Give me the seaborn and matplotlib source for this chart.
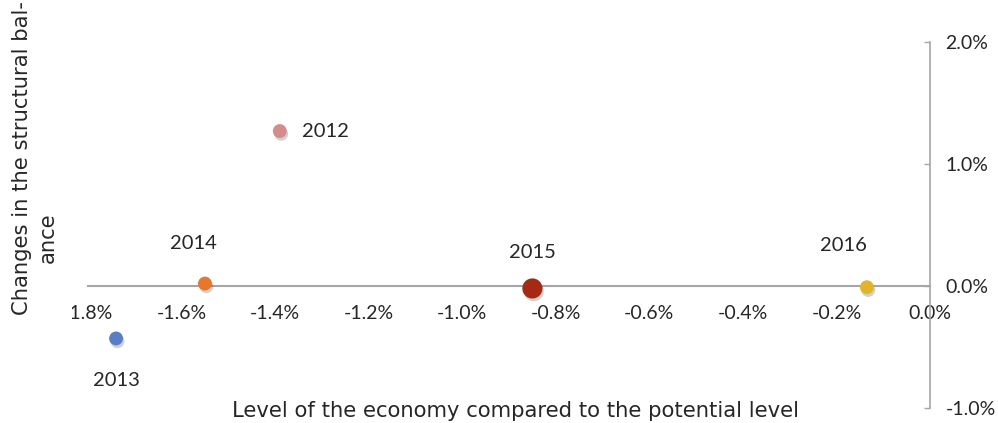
import numpy as np
import pandas as pd
import seaborn as sns
import matplotlib.pyplot as plt
import matplotlib.patheffects as pe
from matplotlib.ticker import MultipleLocator, FuncFormatter
from matplotlib.transforms import Bbox, TransformedBbox

years = ["2012", "2013", "2014", "2015", "2016"]
output_gap = [-1.39, -1.74, -1.55, -0.85, -0.135]
structural_change = [1.27, -0.43, 0.02, -0.02, -0.01]
point_colors = ["#D48C8C", "#5A7EC5", "#E8762C", "#A52A12", "#E1B52A"]
point_sizes = [100, 100, 100, 210, 100]
# label offsets in points (text placement relative to each point)
label_offsets = [(16, 0), (0, -30), (-8, 29), (0, 26), (-17, 30)]
label_ha = ["left", "center", "center", "center", "center"]

df = pd.DataFrame({"year": years, "gap": output_gap, "change": structural_change})

sns.set_theme(style="white")
plt.rcParams["font.family"] = ["Lato", "DejaVu Sans"]

fig = plt.figure(figsize=(9.98, 4.23), dpi=100)
ax = fig.add_axes([88 / 998, 15 / 423, 842 / 998, 366 / 423])

sns.scatterplot(data=df, x="gap", y="change", hue="year", size="year",
                palette=dict(zip(years, point_colors)),
                sizes=dict(zip(years, point_sizes)),
                linewidth=0, legend=False, ax=ax, zorder=5, clip_on=False)
for coll in ax.collections:
    coll.set_path_effects([pe.SimplePatchShadow(offset=(1, -2), shadow_rgbFace="black",
                                                alpha=0.18), pe.Normal()])

for i, yr in enumerate(years):
    ax.annotate(yr, (output_gap[i], structural_change[i]), xytext=label_offsets[i],
                textcoords="offset points", ha=label_ha[i], va="center",
                fontsize=14.5, color="#262626")

ax.set_xlim(-1.8, 0)
ax.set_ylim(-1, 2)
ax.set_xlabel("")
ax.set_ylabel("")

grey = "#A6A6A6"
for s in ["top", "left"]:
    ax.spines[s].set_visible(False)
ax.spines["bottom"].set_position(("data", 0))
ax.spines["bottom"].set_color(grey)
ax.spines["bottom"].set_linewidth(1.5)
ax.spines["right"].set_color(grey)
ax.spines["right"].set_linewidth(1.2)

pct = FuncFormatter(lambda v, p: f"{0.0 if abs(v) < 1e-9 else v:.1f}%")
ax.xaxis.set_major_locator(MultipleLocator(0.2))
ax.xaxis.set_major_formatter(pct)
ax.yaxis.set_major_locator(MultipleLocator(1.0))
ax.yaxis.set_major_formatter(pct)
ax.yaxis.tick_right()
ax.tick_params(axis="x", length=0, pad=14, labelsize=14, labelcolor="#262626")
ax.tick_params(axis="y", direction="in", length=4, width=1, color=grey, pad=11,
               labelsize=14, labelcolor="#262626")

fig.text(516 / 998, 1 - 411 / 423, "Level of the economy compared to the potential level",
         ha="center", va="center", fontsize=15.2, color="#262626", family=["DejaVu Sans"])
fig.text(22 / 998, 1 - 315 / 423, "Changes in the structural bal-", rotation=90,
         ha="center", va="bottom", fontsize=15.2, color="#262626", family=["DejaVu Sans"])
fig.text(48 / 998, 1 - 263 / 423, "ance", rotation=90,
         ha="center", va="bottom", fontsize=15.2, color="#262626", family=["DejaVu Sans"])

fig.canvas.draw()
clip = TransformedBbox(Bbox([[72 / 998, 0], [1, 1]]), fig.transFigure)
for lab in ax.get_xticklabels():
    lab.set_clip_on(True)
    lab.set_clip_box(clip)

fig.savefig("out.png", dpi=100)
